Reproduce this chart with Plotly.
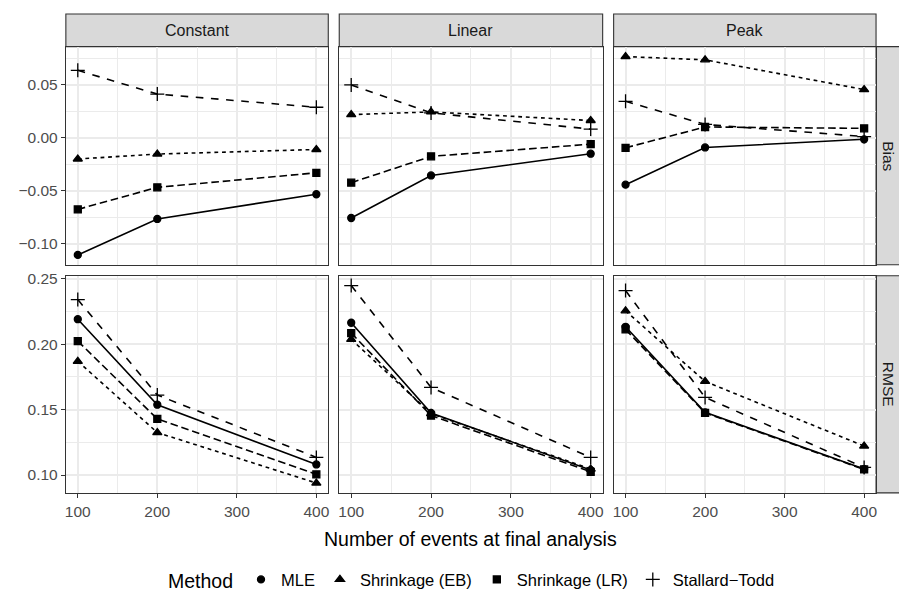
import plotly.graph_objects as go

# ---------------- data ----------------
n_events = [100, 200, 400]
scenarios = ["Constant", "Linear", "Peak"]
measures = ["Bias", "RMSE"]
methods = ["MLE", "Shrinkage (EB)", "Shrinkage (LR)", "Stallard\u2212Todd"]

# Bias
bias_constant_mle = [-0.1106, -0.0767, -0.0534]
bias_constant_eb = [-0.0202, -0.0155, -0.0112]
bias_constant_lr = [-0.0677, -0.0469, -0.0332]
bias_constant_st = [0.0634, 0.0410, 0.0286]

bias_linear_mle = [-0.0758, -0.0357, -0.0152]
bias_linear_eb = [0.0217, 0.0242, 0.0161]
bias_linear_lr = [-0.0425, -0.0177, -0.0062]
bias_linear_st = [0.0497, 0.0233, 0.0080]

bias_peak_mle = [-0.0444, -0.0093, -0.0016]
bias_peak_eb = [0.0764, 0.0733, 0.0453]
bias_peak_lr = [-0.0096, 0.0100, 0.0087]
bias_peak_st = [0.0342, 0.0124, 0.0010]

# RMSE
rmse_constant_mle = [0.2192, 0.1538, 0.1081]
rmse_constant_eb = [0.1870, 0.1325, 0.0939]
rmse_constant_lr = [0.2025, 0.1429, 0.1005]
rmse_constant_st = [0.2342, 0.1612, 0.1135]

rmse_linear_mle = [0.2165, 0.1475, 0.1038]
rmse_linear_eb = [0.2038, 0.1470, 0.1046]
rmse_linear_lr = [0.2086, 0.1455, 0.1025]
rmse_linear_st = [0.2449, 0.1670, 0.1135]

rmse_peak_mle = [0.2134, 0.1480, 0.1046]
rmse_peak_eb = [0.2256, 0.1716, 0.1222]
rmse_peak_lr = [0.2114, 0.1475, 0.1043]
rmse_peak_st = [0.2411, 0.1594, 0.1058]

data = {
    ("Bias", "Constant"): [bias_constant_mle, bias_constant_eb, bias_constant_lr, bias_constant_st],
    ("Bias", "Linear"): [bias_linear_mle, bias_linear_eb, bias_linear_lr, bias_linear_st],
    ("Bias", "Peak"): [bias_peak_mle, bias_peak_eb, bias_peak_lr, bias_peak_st],
    ("RMSE", "Constant"): [rmse_constant_mle, rmse_constant_eb, rmse_constant_lr, rmse_constant_st],
    ("RMSE", "Linear"): [rmse_linear_mle, rmse_linear_eb, rmse_linear_lr, rmse_linear_st],
    ("RMSE", "Peak"): [rmse_peak_mle, rmse_peak_eb, rmse_peak_lr, rmse_peak_st],
}

# ---------------- styles ----------------
W, H = 899, 600
FONT = "Liberation Sans, Arial, Helvetica, sans-serif"
dashes = ["solid", "3.8px,3.8px", "7.6px,3.8px", "7.6px,7.6px"]
symbols = ["circle", "triangle-up", "square", "cross-thin"]
msizes = [7, 8, 7, 10]

col_x = [(65, 328), (339, 603), (614, 877)]
row_y = [(42, 262), (273, 492)]

def px_x(v):
    return v / W

def px_y(v):
    return 1 - v / H

fig = go.Figure()
layout = dict(
    width=W, height=H,
    margin=dict(l=0, r=0, t=0, b=0),
    paper_bgcolor="white", plot_bgcolor="white",
    font=dict(family=FONT, color="#1A1A1A"),
    showlegend=True,
)

xr = [min(n_events) - 0.05 * (max(n_events) - min(n_events)),
      max(n_events) + 0.05 * (max(n_events) - min(n_events))]

row_ranges = []
for m in measures:
    vals = [v for s in scenarios for ser in data[(m, s)] for v in ser]
    lo, hi = min(vals), max(vals)
    pad = 0.05 * (hi - lo)
    row_ranges.append([lo - pad, hi + pad])

shapes = []
annotations = []
for r, m in enumerate(measures):
    for c, s in enumerate(scenarios):
        p = r * 3 + c
        xa = "x" if p == 0 else f"x{p+1}"
        ya = "y" if p == 0 else f"y{p+1}"
        xkey = "xaxis" if p == 0 else f"xaxis{p+1}"
        ykey = "yaxis" if p == 0 else f"yaxis{p+1}"
        x0, x1 = col_x[c]
        y0, y1 = row_y[r]
        bottom = (r == len(measures) - 1)
        left = (c == 0)
        layout[xkey] = dict(
            domain=[px_x(x0), px_x(x1)], anchor=ya, range=xr,
            tickmode="array", tickvals=[100, 200, 300, 400],
            showgrid=True, gridcolor="#EBEBEB", gridwidth=1.9,
            minor=dict(tickmode="array", tickvals=[150, 250, 350], showgrid=True,
                       gridcolor="#EBEBEB", gridwidth=0.95, ticks=""),
            showline=True, mirror=True, linecolor="#333333", linewidth=1.1,
            zeroline=False,
            ticks="outside" if bottom else "", ticklen=4, tickwidth=1.1, tickcolor="#333333",
            showticklabels=bottom,
            tickfont=dict(size=15.5, color="#4D4D4D", family=FONT),
        )
        layout[ykey] = dict(
            domain=[px_y(y1), px_y(y0)], anchor=xa, range=row_ranges[r],
            tick0=0, dtick=0.05, tickformat=".2f",
            showgrid=True, gridcolor="#EBEBEB", gridwidth=1.9,
            minor=dict(tick0=0.025, dtick=0.05, showgrid=True,
                       gridcolor="#EBEBEB", gridwidth=0.95, ticks=""),
            showline=True, mirror=True, linecolor="#333333", linewidth=1.1,
            zeroline=False,
            ticks="outside" if left else "", ticklen=4, tickwidth=1.1, tickcolor="#333333",
            showticklabels=left,
            tickfont=dict(size=15.5, color="#4D4D4D", family=FONT),
        )
        for k, meth in enumerate(methods):
            fig.add_trace(go.Scatter(
                x=n_events, y=data[(m, s)][k], xaxis=xa, yaxis=ya,
                mode="lines+markers", showlegend=False, name=meth,
                line=dict(color="black", width=1.6, dash=dashes[k]),
                marker=dict(symbol=symbols[k], size=msizes[k], color="black",
                            line=dict(color="black", width=1.3)),
                cliponaxis=False,
            ))

# strips
for c, s in enumerate(scenarios):
    x0, x1 = col_x[c]
    shapes.append(dict(type="rect", xref="paper", yref="paper",
                       x0=px_x(x0), x1=px_x(x1), y0=px_y(42), y1=px_y(9),
                       fillcolor="#D9D9D9", line=dict(color="#333333", width=1.1), layer="below"))
    annotations.append(dict(text=s, xref="paper", yref="paper", x=px_x((x0 + x1) / 2),
                            y=px_y(25.5), showarrow=False, xanchor="center", yanchor="middle",
                            font=dict(size=16, color="#1A1A1A", family=FONT)))
for r, m in enumerate(measures):
    y0, y1 = row_y[r]
    shapes.append(dict(type="rect", xref="paper", yref="paper",
                       x0=px_x(877), x1=px_x(910), y0=px_y(y1), y1=px_y(y0),
                       fillcolor="#D9D9D9", line=dict(color="#333333", width=1.1), layer="below"))
    annotations.append(dict(text=m, xref="paper", yref="paper", x=px_x(889.5),
                            y=px_y((y0 + y1) / 2), showarrow=False, textangle=90,
                            xanchor="center", yanchor="middle", borderpad=0,
                            font=dict(size=15.5, color="#1A1A1A", family=FONT)))

annotations.append(dict(text="Number of events at final analysis", xref="paper", yref="paper",
                        x=px_x(471), y=px_y(538), showarrow=False, xanchor="center",
                        yanchor="middle", font=dict(size=19.5, color="black", family=FONT)))

# legend-only traces (points only, as in the reference)
for k, meth in enumerate(methods):
    fig.add_trace(go.Scatter(
        x=[None], y=[None], mode="markers", name=meth, showlegend=True,
        marker=dict(symbol=symbols[k], size=msizes[k], color="black",
                    line=dict(color="black", width=1.3)),
    ))

layout["shapes"] = shapes
layout["annotations"] = annotations
layout["legend"] = dict(
    orientation="h", x=px_x(473), xanchor="center", y=px_y(580), yanchor="middle",
    title=dict(text="Method", side="left", font=dict(size=19.5, color="black", family=FONT)),
    font=dict(size=16.5, color="black", family=FONT),
    itemwidth=30, tracegroupgap=0, bgcolor="rgba(0,0,0,0)",
)
fig.update_layout(**layout)
fig.write_html("out.html")
